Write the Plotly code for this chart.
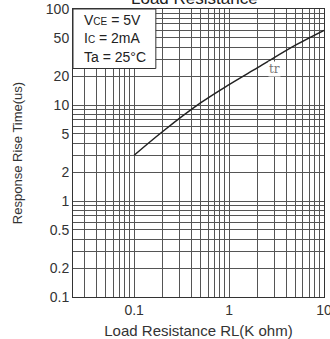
import plotly.graph_objects as go
import numpy as np

# data
rl_kohm = [0.1, 0.2, 0.5, 1, 2, 5, 10]
rise_time_us = [3.0, 5.3, 10.5, 16.3, 24.5, 42, 60]

x_label_vals = [0.1, 1, 10]
y_label_vals = [0.1, 0.2, 0.5, 1, 2, 5, 10, 20, 50, 100]
y_label_text = ["0.1", "0.2", "0.5", "1", "2", "5", "10", "20", "50", "100"]

x_grid = [m * 10.0 ** e for e in (-2, -1, 0) for m in range(1, 10)] + [10]
x_grid = [v for v in x_grid if v >= 0.0227]
y_grid = [m * 10.0 ** e for e in (-1, 0, 1) for m in range(1, 10)] + [100]

def fmt(v, labels, texts=None):
    for i, l in enumerate(labels):
        if abs(v - l) < 1e-9 * max(1, l):
            return texts[i] if texts else ("%g" % l)
    return ""

FONT = "Liberation Sans, Arial, sans-serif"
fig = go.Figure()
fig.add_trace(go.Scatter(x=rl_kohm, y=rise_time_us, mode="lines",
                         line=dict(color="#222", width=1.5, shape="spline"),
                         showlegend=False, hoverinfo="skip"))

fig.add_shape(type="rect", xref="paper", yref="y", x0=0, x1=0.33,
              y0=24, y1=100, fillcolor="white",
              line=dict(color="#333", width=1), layer="above")
fig.add_annotation(xref="paper", yref="y", x=0.035, y=np.log10(76), xanchor="left",
                   text="V<span style='font-size:10px'>CE</span> = 5V", showarrow=False,
                   font=dict(family=FONT, size=14, color="#222"))
fig.add_annotation(xref="paper", yref="y", x=0.035, y=np.log10(50), xanchor="left",
                   text="I<span style='font-size:10px'>C</span> = 2mA", showarrow=False,
                   font=dict(family=FONT, size=14, color="#222"))
fig.add_annotation(xref="paper", yref="y", x=0.035, y=np.log10(32), xanchor="left",
                   text="Ta = 25°C", showarrow=False,
                   font=dict(family=FONT, size=14, color="#222"))
fig.add_annotation(x=np.log10(3.0), y=np.log10(24), text="tr", showarrow=False,
                   bgcolor="white", borderpad=0,
                   font=dict(family="DejaVu Serif, serif", size=12, color="#777"))
fig.add_annotation(xref="paper", yref="paper", x=0.485, y=1, yanchor="bottom", yshift=-1,
                   text="Load Resistance", showarrow=False,
                   font=dict(family=FONT, size=17, color="#222"))

fig.update_xaxes(type="log", range=[np.log10(0.0227), 1.0],
                 tickvals=x_grid, ticktext=[fmt(v, x_label_vals) for v in x_grid],
                 ticklabeloverflow="allow",
                 showgrid=True, gridcolor="#555", gridwidth=1,
                 showline=True, linecolor="#333", linewidth=1, mirror=True,
                 ticks="", zeroline=False,
                 tickfont=dict(family=FONT, size=14, color="#333"),
                 title=dict(text="Load Resistance RL(K ohm)", standoff=8,
                            font=dict(family=FONT, size=15, color="#333")))
fig.update_yaxes(type="log", range=[-1, 2],
                 tickvals=y_grid, ticktext=[fmt(v, y_label_vals, y_label_text) for v in y_grid],
                 ticklabeloverflow="allow",
                 showgrid=True, gridcolor="#555", gridwidth=1,
                 showline=True, linecolor="#333", linewidth=1, mirror=True,
                 ticks="", zeroline=False,
                 tickfont=dict(family=FONT, size=14, color="#333"),
                 title=dict(text="Response Rise Time(us)", standoff=20,
                            font=dict(family=FONT, size=13, color="#333")))
fig.update_layout(width=330, height=339, margin=dict(l=73, r=6, t=9, b=42, autoexpand=False),
                  plot_bgcolor="white", paper_bgcolor="white")
fig.write_html("out.html", config={"displayModeBar": False},
               post_script="document.body.style.margin='0';")
